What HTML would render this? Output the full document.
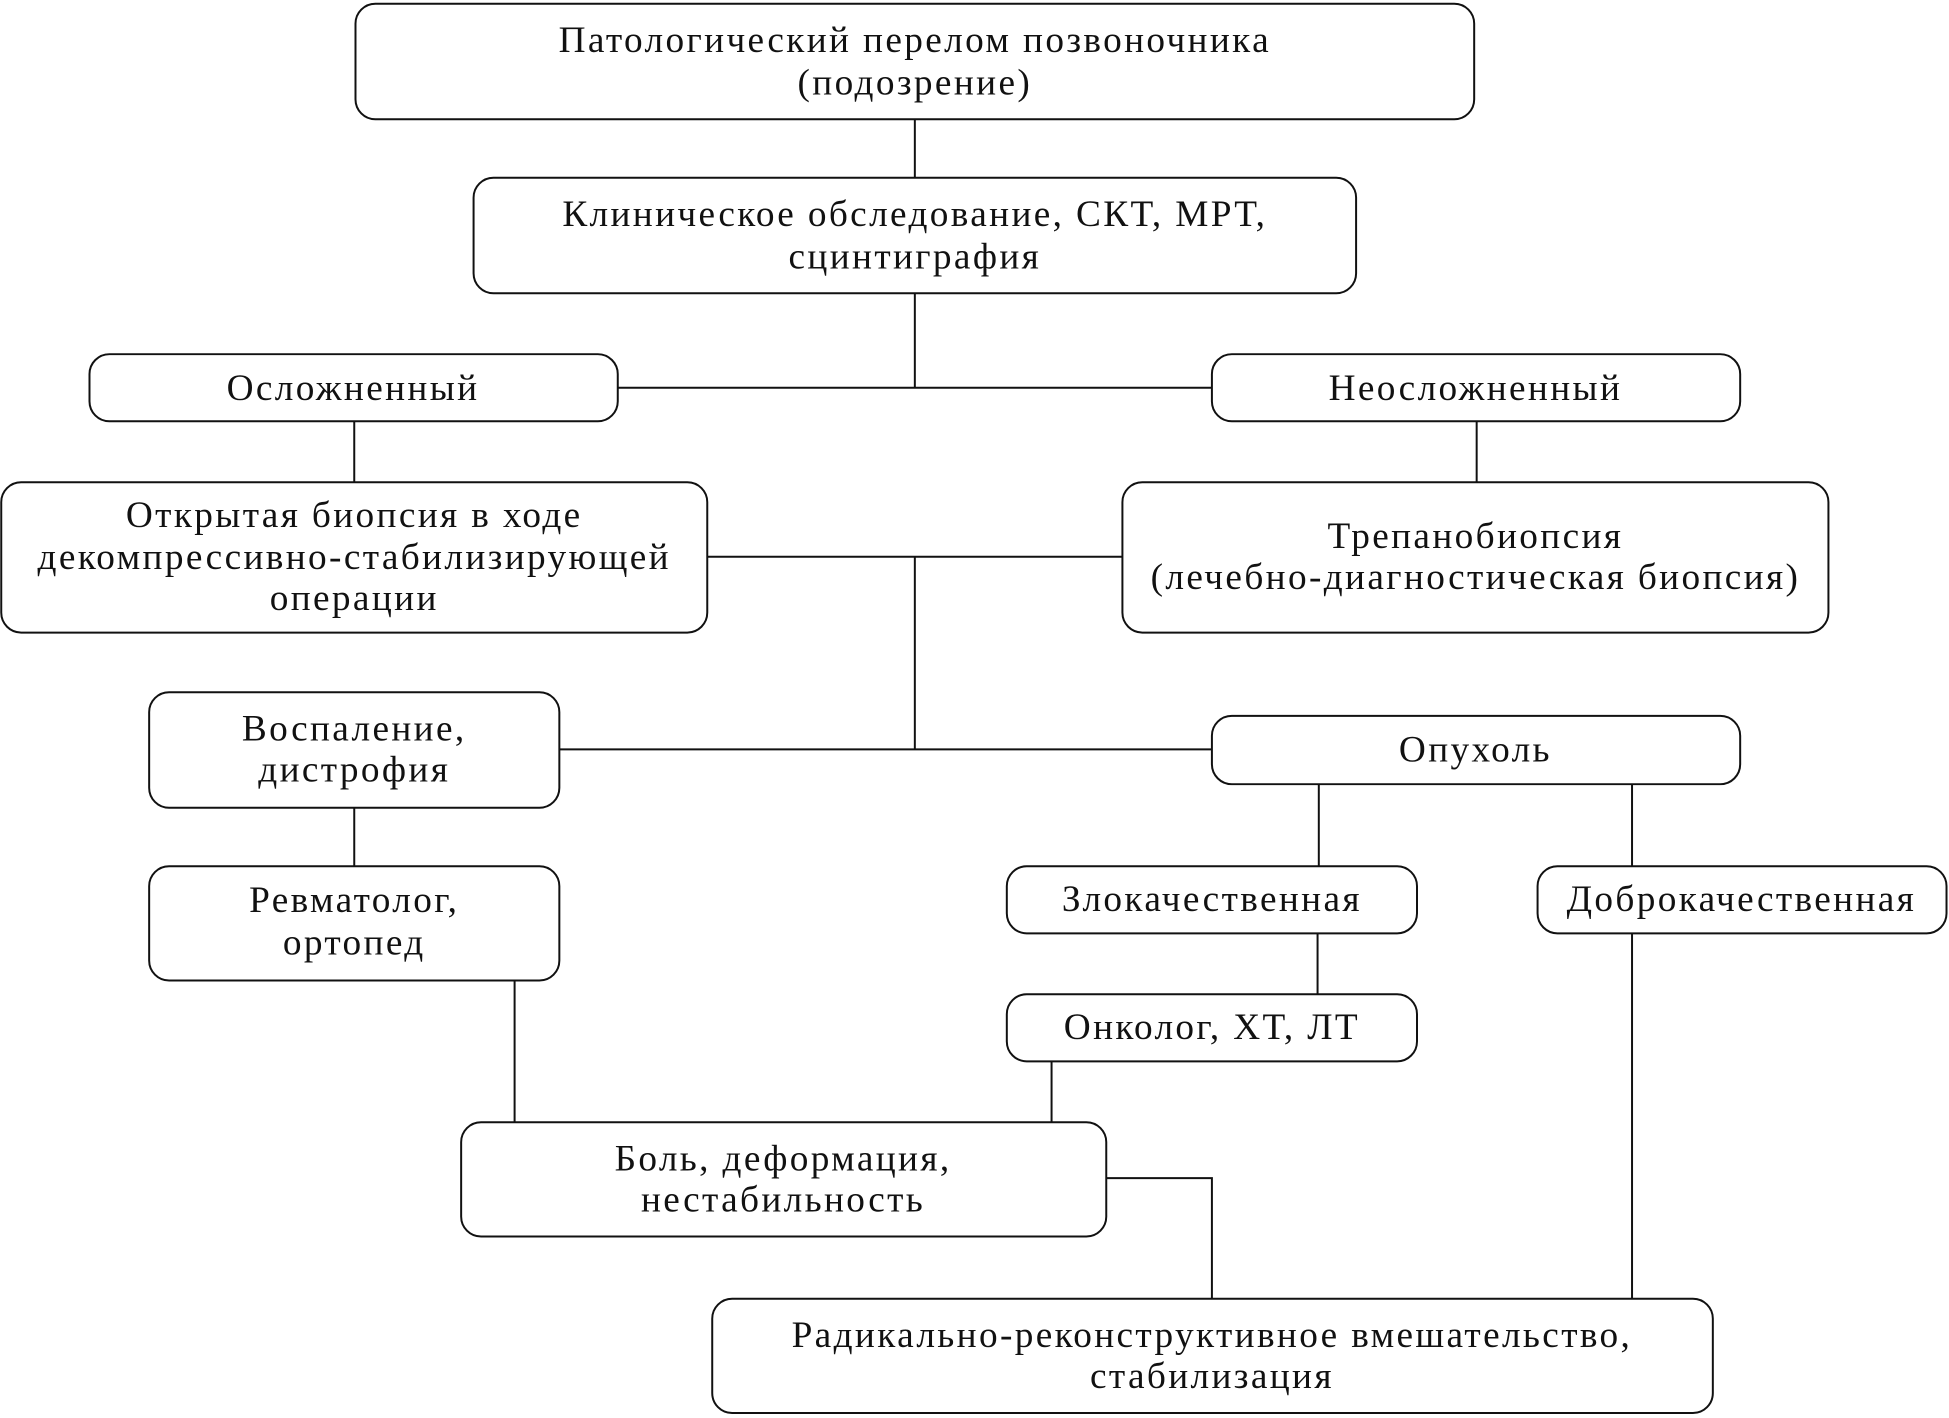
<!DOCTYPE html>
<html><head><meta charset="utf-8"><style>
html,body{margin:0;padding:0;background:#fff}
svg{display:block}
text{font-family:"Liberation Serif",serif;font-size:30px;letter-spacing:1.9px;fill:#111;text-anchor:middle;dominant-baseline:middle}
rect{fill:#fff;stroke:#111;stroke-width:1.6}
line,polyline{stroke:#111;stroke-width:1.6;fill:none}
</style></head><body>
<svg width="1949" height="1418" viewBox="0 0 1568 1141" preserveAspectRatio="none" xmlns="http://www.w3.org/2000/svg">
<line x1="736" y1="96" x2="736" y2="143"/>
<line x1="736" y1="236" x2="736" y2="312"/>
<line x1="497" y1="312" x2="975" y2="312"/>
<line x1="285" y1="339" x2="285" y2="388"/>
<line x1="1188" y1="339" x2="1188" y2="388"/>
<line x1="569" y1="448" x2="903" y2="448"/>
<line x1="736" y1="448" x2="736" y2="603"/>
<line x1="450" y1="603" x2="975" y2="603"/>
<line x1="285" y1="650" x2="285" y2="697"/>
<line x1="1061" y1="631" x2="1061" y2="697"/>
<line x1="1313" y1="631" x2="1313" y2="697"/>
<line x1="1060" y1="751" x2="1060" y2="800"/>
<line x1="414" y1="789" x2="414" y2="903"/>
<line x1="846" y1="854" x2="846" y2="903"/>
<polyline points="890,948 975,948 975,1045"/>
<line x1="1313" y1="751" x2="1313" y2="1045"/>
<g transform="translate(0,3)">
</g>
<rect x="286" y="3" width="900" height="93" rx="16"/>
<rect x="381" y="143" width="710" height="93" rx="16"/>
<rect x="72" y="285" width="425" height="54" rx="16"/>
<rect x="975" y="285" width="425" height="54" rx="16"/>
<rect x="1" y="388" width="568" height="121" rx="16"/>
<rect x="903" y="388" width="568" height="121" rx="16"/>
<rect x="120" y="557" width="330" height="93" rx="16"/>
<rect x="975" y="576" width="425" height="55" rx="16"/>
<rect x="120" y="697" width="330" height="92" rx="16"/>
<rect x="810" y="697" width="330" height="54" rx="16"/>
<rect x="1237" y="697" width="329" height="54" rx="16"/>
<rect x="810" y="800" width="330" height="54" rx="16"/>
<rect x="371" y="903" width="519" height="92" rx="16"/>
<rect x="573" y="1045" width="805" height="92" rx="16"/>
<g transform="translate(0,3)">
<text x="736" y="32">Патологический перелом позвоночника</text>
<text x="736" y="66">(подозрение)</text>
<text x="736" y="172">Клиническое обследование, СКТ, МРТ,</text>
<text x="736" y="206">сцинтиграфия</text>
<text x="284" y="312">Осложненный</text>
<text x="1187" y="312">Неосложненный</text>
<text x="285" y="414">Открытая биопсия в ходе</text>
<text x="285" y="448">декомпрессивно-стабилизирующей</text>
<text x="285" y="481">операции</text>
<text x="1187" y="431">Трепанобиопсия</text>
<text x="1187" y="464">(лечебно-диагностическая биопсия)</text>
<text x="285" y="586">Воспаление,</text>
<text x="285" y="619">дистрофия</text>
<text x="1187" y="603">Опухоль</text>
<text x="285" y="724">Ревматолог,</text>
<text x="285" y="758">ортопед</text>
<text x="975" y="723">Злокачественная</text>
<text x="1401" y="723">Доброкачественная</text>
<text x="975" y="826">Онколог, ХТ, ЛТ</text>
<text x="630" y="932">Боль, деформация,</text>
<text x="630" y="965">нестабильность</text>
<text x="975" y="1074">Радикально-реконструктивное вмешательство,</text>
<text x="975" y="1107">стабилизация</text>
</g>
</svg>
</body></html>
